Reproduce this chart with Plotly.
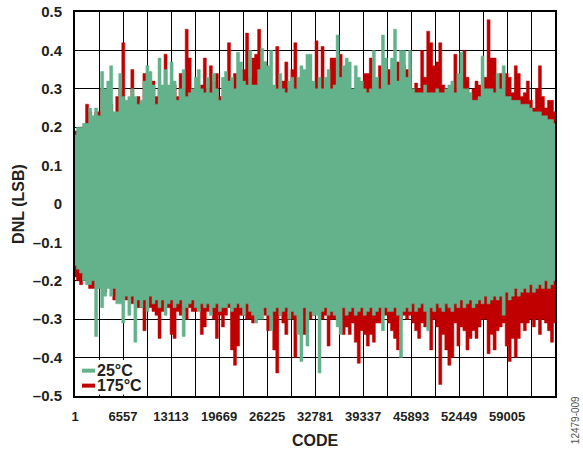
### DNL vs code at 25°C and 175°C

import plotly.graph_objects as go
import numpy as np

# --- DATA (envelope of DNL, 160 samples across the code range) ---
N_SAMPLES = 160
CODE_MIN, CODE_MAX = 1, 65536

dnl_25c_hi = [
    0.18, 0.20, 0.20, 0.21, 0.21, 0.25, 0.23, 0.25, 0.23, 0.345,
    0.30, 0.32, 0.36, 0.24, 0.24, 0.34, 0.28, 0.27, 0.28, 0.30,
    0.28, 0.26, 0.27, 0.32, 0.36, 0.345, 0.31, 0.26, 0.38, 0.31,
    0.35, 0.31, 0.37, 0.32, 0.27, 0.30, 0.35, 0.28, 0.29, 0.30,
    0.33, 0.35, 0.30, 0.29, 0.33, 0.29, 0.34, 0.30, 0.27, 0.33,
    0.345, 0.32, 0.33, 0.30, 0.395,
    0.37, 0.32, 0.31, 0.40, 0.31, 0.31, 0.35, 0.405, 0.37, 0.36,
    0.40, 0.31, 0.30, 0.34, 0.30, 0.29, 0.32, 0.33, 0.30, 0.33,
    0.36, 0.35, 0.39, 0.39, 0.32, 0.30, 0.33, 0.30, 0.33, 0.35,
    0.30, 0.31, 0.44, 0.33, 0.36, 0.38, 0.37, 0.30, 0.36, 0.33,
    0.32, 0.30, 0.29, 0.30, 0.40, 0.33, 0.30, 0.44, 0.38, 0.31,
    0.38, 0.455, 0.32, 0.40,
    0.40, 0.33, 0.40, 0.30, 0.29, 0.29, 0.29, 0.31, 0.29, 0.29,
    0.29, 0.30, 0.29, 0.29, 0.30, 0.31, 0.32, 0.29, 0.34, 0.395,
    0.30, 0.30, 0.29, 0.27, 0.27, 0.28, 0.385, 0.30, 0.30, 0.30,
    0.29, 0.34, 0.30, 0.36, 0.28, 0.28, 0.27, 0.27, 0.27, 0.26,
    0.26, 0.26, 0.25, 0.24, 0.24, 0.24, 0.23, 0.23, 0.22, 0.22, 0.21,
]
dnl_25c_lo = [
    -0.16, -0.17, -0.18, -0.20, -0.21, -0.21, -0.20, -0.345, -0.22, -0.27,
    -0.24, -0.22, -0.24, -0.22, -0.26, -0.26, -0.31, -0.24, -0.29, -0.24,
    -0.36, -0.25, -0.27, -0.25, -0.28, -0.24, -0.26, -0.25, -0.27, -0.25,
    -0.29, -0.26, -0.25, -0.27, -0.26, -0.25, -0.345, -0.27, -0.26, -0.25,
    -0.27, -0.28, -0.26, -0.27, -0.26, -0.29, -0.27, -0.26, -0.28, -0.27,
    -0.27, -0.26, -0.28, -0.27, -0.26,
    -0.27, -0.29, -0.26, -0.28, -0.29, -0.31, -0.30, -0.30, -0.27, -0.29,
    -0.33, -0.28, -0.27, -0.29, -0.28, -0.27, -0.30, -0.28, -0.29, -0.34,
    -0.41, -0.27, -0.37, -0.28, -0.29, -0.29, -0.44, -0.28, -0.27, -0.29,
    -0.28, -0.29, -0.32, -0.34, -0.27, -0.29, -0.28, -0.27, -0.29, -0.28,
    -0.27, -0.29, -0.28, -0.27, -0.29, -0.28, -0.27, -0.33, -0.27, -0.28,
    -0.28, -0.27, -0.29, -0.40,
    -0.28, -0.27, -0.28, -0.26, -0.28, -0.27, -0.26, -0.28, -0.33, -0.27,
    -0.28, -0.26, -0.27, -0.28, -0.26, -0.27, -0.28, -0.26, -0.27, -0.25,
    -0.27, -0.26, -0.25, -0.27, -0.26, -0.25, -0.26, -0.24, -0.26, -0.25,
    -0.24, -0.25, -0.24, -0.29, -0.23, -0.25, -0.24, -0.22, -0.24, -0.23,
    -0.22, -0.23, -0.21, -0.23, -0.22, -0.21, -0.22, -0.20, -0.22, -0.21, -0.20,
]
dnl_175c_hi = [
    0.19, 0.19, 0.20, 0.20, 0.26, 0.24, 0.22, 0.24, 0.24, 0.30,
    0.29, 0.30, 0.26, 0.23, 0.28, 0.30, 0.42, 0.26, 0.27, 0.35,
    0.27, 0.28, 0.26, 0.34, 0.30, 0.32, 0.32, 0.28, 0.30, 0.28,
    0.39, 0.29, 0.30, 0.31, 0.28, 0.34, 0.30, 0.455, 0.38, 0.28,
    0.29, 0.30, 0.31, 0.38, 0.30, 0.36, 0.32, 0.34, 0.28, 0.26,
    0.31, 0.42, 0.30, 0.34, 0.34,
    0.35, 0.35, 0.445, 0.33, 0.38, 0.39, 0.455, 0.33, 0.37, 0.35,
    0.30, 0.29, 0.41, 0.30, 0.32, 0.37, 0.30, 0.35, 0.42, 0.30,
    0.29, 0.30, 0.30, 0.31, 0.30, 0.425, 0.30, 0.41, 0.30, 0.30,
    0.38, 0.38, 0.30, 0.39, 0.30, 0.30, 0.30, 0.28, 0.30, 0.30,
    0.30, 0.34, 0.34, 0.38, 0.30, 0.32, 0.36, 0.30, 0.30, 0.35,
    0.30, 0.30, 0.37, 0.30,
    0.36, 0.35, 0.32, 0.30, 0.315, 0.30, 0.40, 0.33, 0.45, 0.42,
    0.36, 0.37, 0.42, 0.31, 0.29, 0.29, 0.30, 0.39, 0.30, 0.33,
    0.40, 0.33, 0.28, 0.30, 0.32, 0.31, 0.30, 0.33, 0.48, 0.38,
    0.38, 0.30, 0.34, 0.30, 0.34, 0.33, 0.29, 0.36, 0.34, 0.28,
    0.29, 0.32, 0.27, 0.25, 0.30, 0.36, 0.28, 0.25, 0.27, 0.27, 0.24,
]
dnl_175c_lo = [
    -0.19, -0.20, -0.21, -0.19, -0.19, -0.22, -0.22, -0.22, -0.21, -0.22,
    -0.23, -0.20, -0.22, -0.25, -0.24, -0.24, -0.24, -0.25, -0.25, -0.26,
    -0.25, -0.27, -0.27, -0.33, -0.26, -0.27, -0.28, -0.29, -0.35, -0.28,
    -0.27, -0.27, -0.34, -0.35, -0.28, -0.29, -0.28, -0.30, -0.27, -0.28,
    -0.28, -0.27, -0.34, -0.32, -0.28, -0.28, -0.30, -0.35, -0.29, -0.32,
    -0.29, -0.27, -0.38, -0.42, -0.37,
    -0.29, -0.29, -0.30, -0.30, -0.31, -0.29, -0.28, -0.28, -0.29, -0.33,
    -0.29, -0.38, -0.44, -0.29, -0.31, -0.34, -0.28, -0.30, -0.40, -0.29,
    -0.29, -0.34, -0.29, -0.30, -0.29, -0.28, -0.28, -0.30, -0.29, -0.37,
    -0.30, -0.30, -0.28, -0.29, -0.34, -0.32, -0.34, -0.31, -0.36, -0.415,
    -0.33, -0.34, -0.37, -0.34, -0.36, -0.31, -0.31, -0.29, -0.29, -0.31,
    -0.33, -0.35, -0.38, -0.30,
    -0.29, -0.30, -0.29, -0.31, -0.33, -0.35, -0.31, -0.32, -0.30, -0.38,
    -0.30, -0.32, -0.47, -0.34, -0.38, -0.42, -0.40, -0.31, -0.37, -0.32,
    -0.33, -0.38, -0.35, -0.33, -0.35, -0.32, -0.30, -0.30, -0.39, -0.34,
    -0.38, -0.33, -0.32, -0.31, -0.37, -0.41, -0.35, -0.40, -0.35, -0.31,
    -0.33, -0.31, -0.30, -0.32, -0.30, -0.34, -0.30, -0.31, -0.33, -0.36, -0.31,
]

x_tick_labels = ["1", "6557", "13113", "19669", "26225", "32781",
                 "39337", "45893", "52449", "59005"]
y_tick_vals = [-0.5, -0.4, -0.3, -0.2, -0.1, 0, 0.1, 0.2, 0.3, 0.4, 0.5]
y_tick_text = ["\u20130.5", "\u20130.4", "\u20130.3", "\u20130.2", "\u20130.1",
               "0", "0.1", "0.2", "0.3", "0.4", "0.5"]
series_names = ["25°C", "175°C"]

# --- STYLE ---
GREEN = '#63B28C'
RED = '#C00000'
INK = '#231F20'
FONT = 'Arial, Liberation Sans, sans-serif'

codes = np.linspace(CODE_MIN, CODE_MAX, N_SAMPLES)


def band(hi, lo):
    # closed outline: top edge left->right, bottom edge right->left
    xs = np.concatenate([codes, codes[::-1]])
    ys = np.concatenate([np.array(hi), np.array(lo)[::-1]])
    return xs, ys


fig = go.Figure()

# 175°C drawn first, 25°C on top of it
for hi, lo, color, name in [(dnl_175c_hi, dnl_175c_lo, RED, series_names[1]),
                            (dnl_25c_hi, dnl_25c_lo, GREEN, series_names[0])]:
    bx, by = band(hi, lo)
    fig.add_trace(go.Scatter(
        x=bx, y=by, mode='lines', fill='toself',
        fillcolor=color, line=dict(color=color, width=0.5, shape='hvh'),
        name=name, showlegend=False, hoverinfo='skip'
    ))

# gridlines every half label step, labels every other line
grid_step = (6557 - 1) // 2
grid_vals = [1 + grid_step * k for k in range(20)]
grid_text = [x_tick_labels[k // 2] if k % 2 == 0 else "" for k in range(20)]

fig.update_xaxes(
    range=[CODE_MIN, CODE_MAX], tickmode='array',
    tickvals=grid_vals, ticktext=grid_text,
    showgrid=True, gridcolor='black', gridwidth=1.3,
    showline=True, linecolor='black', linewidth=2, mirror=True,
    ticks='', ticklabelstandoff=7, zeroline=False,
    tickfont=dict(family=FONT, size=13, color=INK, weight='bold')
)
fig.update_yaxes(
    range=[-0.5, 0.5], tickmode='array',
    tickvals=y_tick_vals, ticktext=y_tick_text,
    showgrid=True, gridcolor='black', gridwidth=1.3,
    showline=True, linecolor='black', linewidth=2, mirror=True,
    ticks='', ticklabelstandoff=8, zeroline=False,
    tickfont=dict(family=FONT, size=15, color=INK, weight='bold')
)

# --- LEGEND (bottom-left box) ---
fig.add_shape(type='rect', xref='paper', yref='paper',
              x0=0.004, x1=0.15, y0=0.004, y1=0.094,
              fillcolor='white', line_width=0, layer='above')
for ypos, color, name in [(0.066, GREEN, series_names[0]), (0.027, RED, series_names[1])]:
    fig.add_shape(type='line', xref='paper', yref='paper',
                  x0=0.0146, x1=0.0417, y0=ypos, y1=ypos,
                  line=dict(color=color, width=4), layer='above')
    fig.add_annotation(x=0.044, y=ypos, xref='paper', yref='paper',
                       text=name, showarrow=False, xanchor='left', yanchor='middle',
                       borderpad=0,
                       font=dict(family=FONT, size=16, color=INK, weight='bold'))

# --- AXIS TITLES / FIGURE ID ---
fig.add_annotation(x=-0.119, y=0.5, xref='paper', yref='paper', text="DNL (LSB)",
                   textangle=-90, showarrow=False, xanchor='center', yanchor='middle',
                   font=dict(family=FONT, size=16, color=INK, weight='bold'))
fig.add_annotation(x=0.5, y=-0.115, xref='paper', yref='paper', text="CODE",
                   showarrow=False, xanchor='center', yanchor='middle',
                   font=dict(family=FONT, size=16, color=INK, weight='bold'))
fig.add_annotation(x=1.042, y=-0.0625, xref='paper', yref='paper', text="12479-009",
                   textangle=-90, showarrow=False, xanchor='center', yanchor='middle',
                   font=dict(family=FONT, size=10, color='#555555'))

fig.update_layout(
    width=583, height=450,
    template='plotly_white',
    plot_bgcolor='white', paper_bgcolor='white',
    margin=dict(l=75, r=28, t=12, b=54, autoexpand=False),
    showlegend=False
)

# page body has a default 8px margin; drop it so the figure sits at the window origin
fig.write_html("out.html", config={'displayModeBar': False},
               post_script="document.body.style.margin='0';")
